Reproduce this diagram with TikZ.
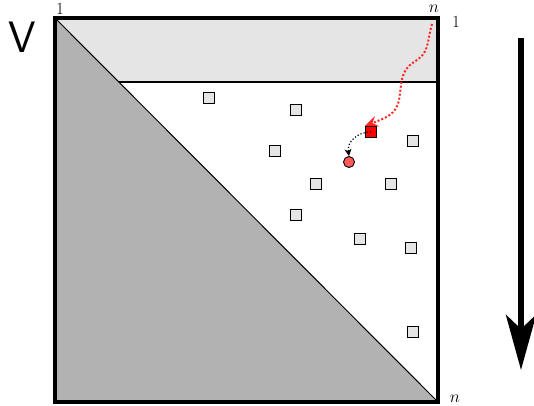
\documentclass[tikz,border=0pt]{standalone}
\usepackage{fontspec}
\usetikzlibrary{arrows.meta}
\begin{document}
\begin{tikzpicture}[x=1pt,y=-1pt,
  entry/.style={draw=black,fill=gray!20,minimum size=11pt,inner sep=0pt,line width=1.1pt},
  pivot/.style={draw=black,fill=red,minimum size=11pt,inner sep=0pt,line width=1.1pt},
  target/.style={circle,draw=black,fill=red!65,minimum size=11pt,inner sep=0pt,line width=0.9pt},
  lbl/.style={font=\fontsize{17}{17}\selectfont,inner sep=1pt}]
\useasboundingbox (0,0) rectangle (534,405);
% regions
\fill[gray!20] (55,18) rectangle (438,82);
\fill[gray!60] (55,18) -- (438,402) -- (55,402) -- cycle;
\draw[line width=1pt] (55,18) -- (438,402);
\draw[line width=1.2pt] (119,82) -- (438,82);
\draw[line width=4pt] (55,18) rectangle (438,402);
% labels
\node[lbl] (l1) at (60,9) {1};
\node[lbl] (ln) at (434,9) {$n$};
\node[lbl] (r1) at (456,22) {1};
\node[lbl] (rn) at (455,399) {$n$};
\node[font=\sffamily\fontsize{44}{44}\selectfont,inner sep=0pt] (V) at (22,37) {V};
% entries
\node[entry] (e1) at (209,98) {};
\node[entry] (e2) at (296,110) {};
\node[entry] (e3) at (413,141) {};
\node[entry] (e4) at (275,151) {};
\node[entry] (e5) at (316,184) {};
\node[entry] (e6) at (391,184) {};
\node[entry] (e7) at (296,215) {};
\node[entry] (e8) at (360,239) {};
\node[entry] (e9) at (411,248) {};
\node[entry] (e10) at (413,332) {};
\node[pivot] (p) at (371,132) {};
\node[target] (t) at (349,162) {};
% red dotted path
\coordinate (s) at (432,24);
\draw[red!85,line width=2pt,dotted,-{Stealth[length=13pt,width=11pt,inset=5pt]}]
  (s) .. controls (426,45) and (430,52) .. (414,62)
      .. controls (400,71) and (402,82) .. (399,100)
      .. controls (396,115) and (385,118) .. (p.north west);
% black dotted arrow
\draw[line width=1.2pt,dotted,-{Stealth[length=7pt,width=7pt,inset=2pt]}]
  (p.center) .. controls (357,132) and (347,142) .. (t.north);
% big arrow
\coordinate (a1) at (521,38);
\coordinate (a2) at (521,370);
\draw[line width=6.5pt,-{Stealth[length=55pt,width=30pt,inset=14pt]}] (a1) -- (a2);
\end{tikzpicture}
\end{document}
